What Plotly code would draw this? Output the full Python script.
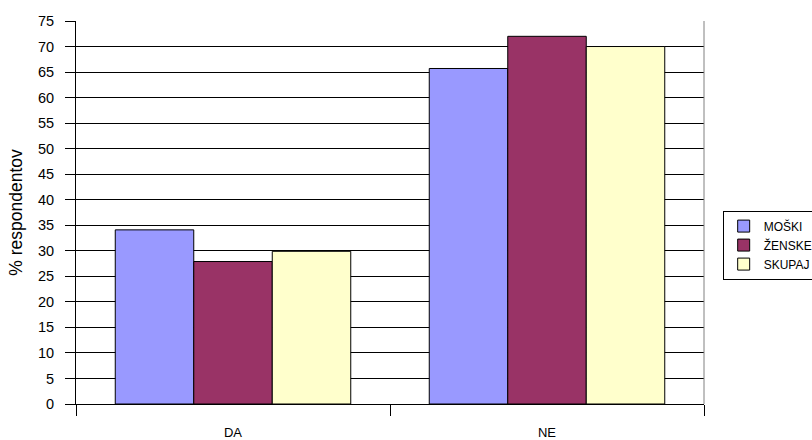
import plotly.graph_objects as go

categories = ["DA", "NE"]
series_names = ["MOŠKI", "ŽENSKE", "SKUPAJ"]
moski = [34.1, 65.7]
zenske = [27.9, 72.0]
skupaj = [29.9, 70.0]
y_ticks = list(range(0, 80, 5))

colors = ["#9999FF", "#993366", "#FFFFCC"]
values = [moski, zenske, skupaj]

fig = go.Figure()
for name, vals, col in zip(series_names, values, colors):
    fig.add_trace(go.Bar(
        x=categories, y=vals, name=name,
        marker=dict(color=col, line=dict(color="#000000", width=1)),
    ))

font_family = "Liberation Sans, Arial, sans-serif"
fig.update_layout(
    width=812, height=440,
    margin=dict(l=76, r=108, t=21, b=36, autoexpand=False),
    paper_bgcolor="white", plot_bgcolor="white",
    barmode="group", bargap=0.25, bargroupgap=0,
    font=dict(family=font_family, size=13, color="#000000"),
    showlegend=True,
    legend=dict(
        xref="container", yref="container",
        x=0.89, y=0.443, xanchor="left", yanchor="middle",
        bordercolor="#000000", borderwidth=1,
        font=dict(size=12, family=font_family),
        itemwidth=30, tracegroupgap=0,
        bgcolor="white",
    ),
    xaxis=dict(
        type="category",
        showline=True, linecolor="#000000", linewidth=1,
        ticks="outside", ticklen=11, tickcolor="#000000",
        tickson="boundaries",
        ticklabelstandoff=16,
        tickfont=dict(size=13),
        showgrid=False,
    ),
    yaxis=dict(
        range=[0, 75],
        tickvals=y_ticks,
        showline=True, linecolor="#000000", linewidth=1,
        ticks="outside", ticklen=10, tickcolor="#000000",
        ticklabelstandoff=8,
        showgrid=True, gridcolor="#000000", gridwidth=1,
        zeroline=False,
        tickfont=dict(size=14.5),
        title=dict(text="% respondentov", font=dict(size=17.5), standoff=10),
    ),
)
fig.add_shape(type="line", xref="paper", yref="paper", x0=1, x1=1, y0=0, y1=1,
              line=dict(color="#808080", width=1))
fig.write_html("out.html")
